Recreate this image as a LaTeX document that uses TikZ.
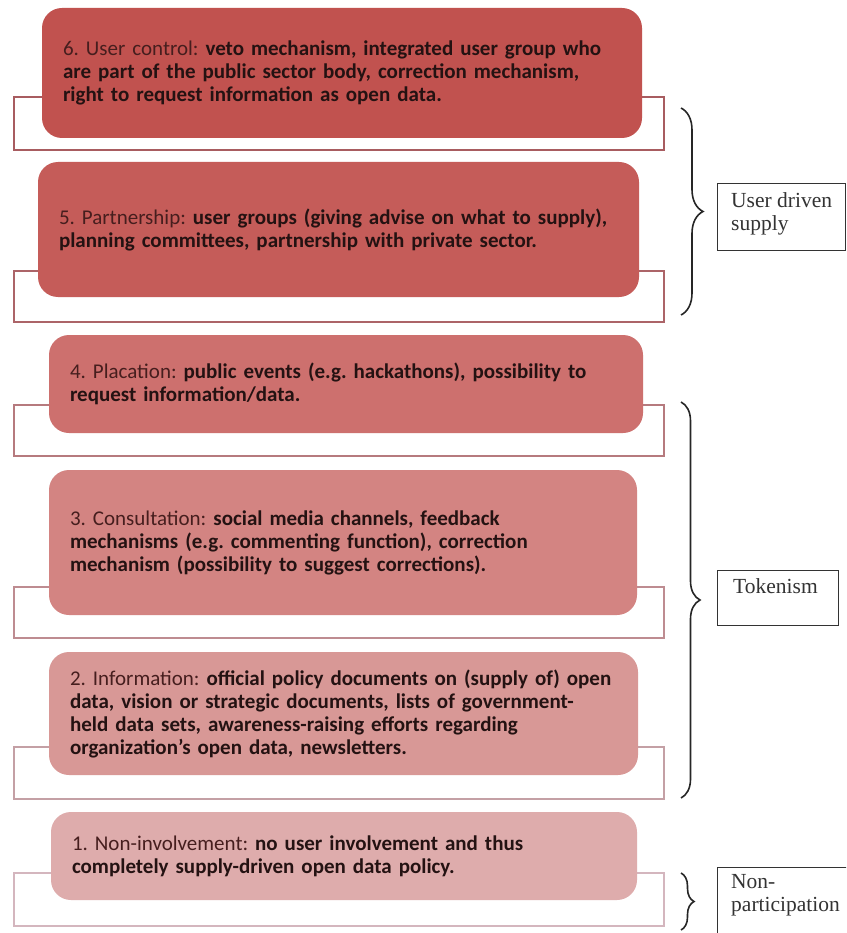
\documentclass[tikz,border=0pt]{standalone}
\usepackage{fontspec}
\setmainfont{Carlito}
\newfontfamily\labelfont{Liberation Serif}
\usetikzlibrary{decorations.pathreplacing}
\frenchspacing

% level fills, darkest (top) to lightest (bottom)
\definecolor{fillsix}{RGB}{193,82,79}
\definecolor{fillfive}{RGB}{197,92,89}
\definecolor{fillfour}{RGB}{205,112,110}
\definecolor{fillthree}{RGB}{211,132,130}
\definecolor{filltwo}{RGB}{216,152,150}
\definecolor{fillone}{RGB}{222,172,172}
% bracket outlines
\definecolor{brsix}{RGB}{168,92,96}
\definecolor{brfive}{RGB}{172,100,104}
\definecolor{brfour}{RGB}{182,122,126}
\definecolor{brthree}{RGB}{190,140,145}
\definecolor{brtwo}{RGB}{196,160,165}
\definecolor{brone}{RGB}{212,182,190}
\definecolor{headtext}{RGB}{70,30,30}
\definecolor{bodytext}{RGB}{36,18,18}

\tikzset{
  levelbox/.style={rounded corners=20pt, inner xsep=21pt, inner ysep=0pt,
    align=left, font=\fontsize{21}{23}\selectfont\color{bodytext}},
  bracketline/.style={line width=2.6pt, line join=miter},
  labelbox/.style={draw=black!80, line width=1.4pt, inner sep=0pt},
  labeltext/.style={anchor=north west, inner sep=0pt, align=left,
    font=\labelfont\fontsize{21.5}{23}\selectfont, text=black!80},
  groupbrace/.style={draw=black!85, line width=1.6pt, decorate},
}

% #1 name, #2 left, #3 top, #4 right, #5 bottom, #6 fill, #7 text
\newcommand\levelnode[7]{%
  \node[levelbox, fill=#6, text width={#4-#2-42pt}, minimum height={#5-#3}]
    (#1) at ({(#2+#4)/2},{(#3+#5)/2}) {#7};}
% #1 top, #2 bottom, #3 box left, #4 box right, #5 colour
\newcommand\bracketpath[5]{%
  \draw[bracketline, draw=#5] (#3+12,#1) -- (14,#1) -- (14,#2) -- (664,#2)
    -- (664,#1) -- (#4-12,#1);}
\newcommand\hd[1]{{\color{headtext}#1}}

\begin{document}
\begin{tikzpicture}[x=1pt, y=-1pt]
\useasboundingbox (0,0) rectangle (846,933);
\clip (0,0) rectangle (846,933);
\fill[white] (0,0) rectangle (846,933);

% brackets behind each level
\bracketpath{97}{150}{42}{642}{brsix}
\bracketpath{271}{322}{38}{639}{brfive}
\bracketpath{405}{456}{49}{643}{brfour}
\bracketpath{587}{638}{49}{637}{brthree}
\bracketpath{747}{799}{49}{638}{brtwo}
\bracketpath{873}{926}{51}{637}{brone}

% the six levels
\levelnode{lsix}{42}{8}{642}{138}{fillsix}{%
  \hd{6. User control:} \textbf{veto mechanism, integrated user group who}\\
  \textbf{are part of the public sector body, correction mechanism,}\\
  \textbf{right to request information as open data.}}
\levelnode{lfive}{38}{162}{639}{297}{fillfive}{%
  \hd{5. Partnership:} \textbf{user groups (giving advise on what to supply),}\\
  \textbf{planning committees, partnership with private sector.}}
\levelnode{lfour}{49}{335}{643}{433}{fillfour}{%
  \hd{4. Placation:} \textbf{public events (e.g. hackathons), possibility to}\\
  \textbf{request information/data.}}
\levelnode{lthree}{49}{470}{637}{615}{fillthree}{%
  \hd{3. Consultation:} \textbf{social media channels, feedback}\\
  \textbf{mechanisms (e.g. commenting function), correction}\\
  \textbf{mechanism (possibility to suggest corrections).}}
\levelnode{ltwo}{49}{652}{638}{775}{filltwo}{%
  \hd{2. Information:} \textbf{official policy documents on (supply of) open}\\
  \textbf{data, vision or strategic documents, lists of government-}\\
  \textbf{held data sets, awareness-raising efforts regarding}\\
  \textbf{organization’s open data, newsletters.}}
\levelnode{lone}{51}{812}{637}{900}{fillone}{%
  \hd{1. Non-involvement:} \textbf{no user involvement and thus}\\
  \textbf{completely supply-driven open data policy.}}

% group braces
\coordinate (udtop) at (681,108);
\coordinate (udbot) at (681,315);
\coordinate (tktop) at (681,402);
\coordinate (tkbot) at (681,798);
\coordinate (nptop) at (681,873);
\coordinate (npbot) at (681,930);
\draw[groupbrace, decoration={brace, amplitude=22pt, aspect=0.5}] (udtop) -- (udbot);
\draw[groupbrace, decoration={brace, amplitude=19pt, aspect=0.5}] (tktop) -- (tkbot);
\draw[groupbrace, decoration={brace, amplitude=13pt, aspect=0.5}] (nptop) -- (npbot);

% group labels
\node[labelbox, anchor=north west, minimum width=128pt, minimum height=67pt] (ud) at (717,183) {};
\node[labeltext] (udtext) at (731,192) {User driven\\supply};
\node[labelbox, anchor=north west, minimum width=121pt, minimum height=55pt] (tk) at (717,570) {};
\node[labeltext] (tktext) at (733,578) {Tokenism};
\node[labelbox, anchor=north west, minimum width=135pt, minimum height=80pt] (np) at (717,867) {};
\node[labeltext] (nptext) at (731,874) {Non-\\participation};
\end{tikzpicture}
\end{document}
